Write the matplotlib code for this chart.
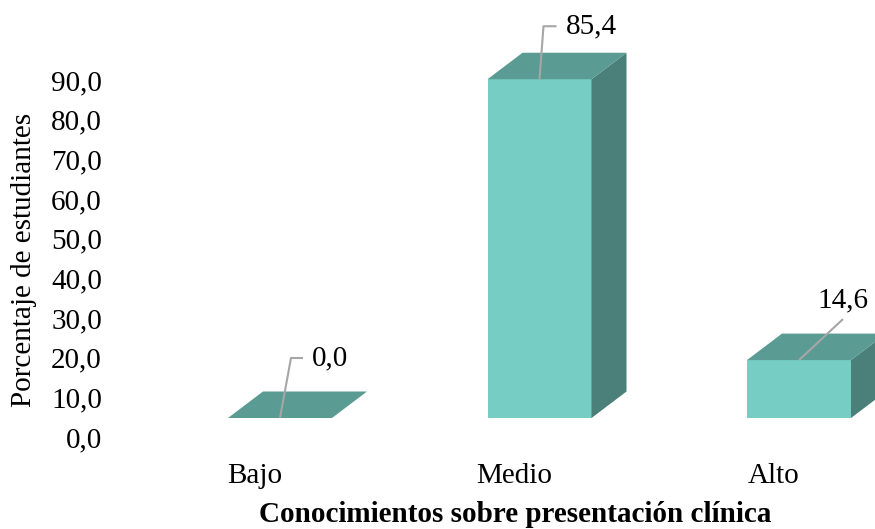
import numpy as np
import matplotlib
matplotlib.use('Agg')
import matplotlib.pyplot as plt
from matplotlib.patches import Polygon

categorias = ['Bajo', 'Medio', 'Alto']
porcentajes = [0.0, 85.4, 14.6]
yticks = [0, 10, 20, 30, 40, 50, 60, 70, 80, 90]

plt.rcParams['font.family'] = ['Liberation Serif', 'DejaVu Serif']
fs = 21

c_front = '#76CDC3'
c_top = '#5A9B93'
c_side = '#4A8079'
c_line = '#A6A6A6'

fig = plt.figure(figsize=(8.75, 5.29), dpi=100)
# axes placed so that the value scale lines up with the 3D bars
W, H = 875., 529.
left_px, right_px = 120., 875.
bottom_px, top_px = 437., 0.
ax = fig.add_axes([left_px / W, 1 - bottom_px / H, (right_px - left_px) / W, (bottom_px - top_px) / H])
px_x = 259.5          # pixels per category
px_y = 357. / 90.     # pixels per percentage unit
ax.set_xlim((left_px - 255.) / px_x, (right_px - 255.) / px_x)
ax.set_ylim(0, (bottom_px - top_px) / px_y)

# 3D box geometry
base = 19. / px_y
x0, x1 = -27. / px_x, 77. / px_x
dx, dy = 35. / px_x, 26.5 / px_y

for i, v in enumerate(porcentajes):
    xl, xr = i + x0, i + x1
    vt = base + v
    if v > 0:
        ax.add_patch(Polygon([(xl, base), (xr, base), (xr, vt), (xl, vt)],
                             closed=True, facecolor=c_front, edgecolor='none', clip_on=False))
        ax.add_patch(Polygon([(xr, base), (xr, vt), (xr + dx, vt + dy), (xr + dx, base + dy)],
                             closed=True, facecolor=c_side, edgecolor='none', clip_on=False))
    ax.add_patch(Polygon([(xl, vt), (xr, vt), (xr + dx, vt + dy), (xl + dx, vt + dy)],
                         closed=True, facecolor=c_top, edgecolor='none', clip_on=False))

# data labels with leader lines (offsets in pixels)
leaders = [(11, 60, 12), (4, 53, 13), (44, 41, 0)]
for i, v in enumerate(porcentajes):
    xc = i + (x0 + x1) / 2
    vt = base + v
    ox, oy, hz = leaders[i]
    xe, ye = xc + ox / px_x, vt + oy / px_y
    xs = [xc, xe]
    ys = [vt, ye]
    if hz:
        xs.append(xe + hz / px_x)
        ys.append(ye)
    ax.plot(xs, ys, color=c_line, lw=1.5, clip_on=False, solid_capstyle='butt')
    txt = '{:.1f}'.format(v).replace('.', ',')
    if hz:
        ax.text(xe + (hz + 9) / px_x, ye, txt, fontsize=fs, ha='left', va='center')
    else:
        ax.text(xe, ye + 6 / px_y, txt, fontsize=fs, ha='center', va='bottom')

ax.set_xticks(range(len(categorias)))
ax.set_xticklabels(categorias, fontsize=fs)
ax.set_yticks(yticks)
ax.set_yticklabels(['{:.1f}'.format(t).replace('.', ',') for t in yticks], fontsize=fs)
ax.tick_params(axis='both', length=0)
ax.tick_params(axis='x', pad=19)
ax.tick_params(axis='y', pad=13)
for s in ax.spines.values():
    s.set_visible(False)

fig.text(515 / W, 1 - 515 / H, 'Conocimientos sobre presentación clínica',
         fontsize=fs, fontweight='bold', ha='center', va='center')
fig.text(24 / W, 1 - 260 / H, 'Porcentaje de estudiantes',
         fontsize=fs, rotation=90, ha='center', va='center')

fig.savefig('out.png', dpi=100)
